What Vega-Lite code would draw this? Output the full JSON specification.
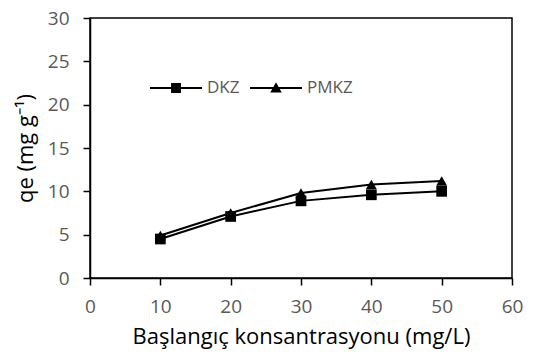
{
  "$schema": "https://vega.github.io/schema/vega-lite/v6.json",
  "autosize": {"type": "none"},
  "padding": {"left": 90, "top": 18, "right": 31, "bottom": 76},
  "width": 422,
  "height": 260,
  "background": "white",
  "config": {
    "view": {"stroke": "black", "strokeWidth": 1.5},
    "font": "Open Sans",
    "axis": {
      "grid": false,
      "domainColor": "black",
      "domainWidth": 1.5,
      "tickColor": "black",
      "tickWidth": 1.5,
      "tickSize": 7,
      "labelColor": "#595959",
      "labelFontSize": 19,
      "labelFont": "Open Sans",
      "titleFont": "Open Sans",
      "titleFontWeight": "normal",
      "titleColor": "black",
      "titleFontSize": 22
    }
  },
  "data": {
    "values": [
      {"c": 10, "qe": 4.5, "s": "DKZ"},
      {"c": 20, "qe": 7.1, "s": "DKZ"},
      {"c": 30, "qe": 8.9, "s": "DKZ"},
      {"c": 40, "qe": 9.6, "s": "DKZ"},
      {"c": 50, "qe": 10.0, "s": "DKZ"},
      {"c": 10, "qe": 4.9, "s": "PMKZ"},
      {"c": 20, "qe": 7.5, "s": "PMKZ"},
      {"c": 30, "qe": 9.8, "s": "PMKZ"},
      {"c": 40, "qe": 10.8, "s": "PMKZ"},
      {"c": 50, "qe": 11.2, "s": "PMKZ"}
    ]
  },
  "encoding": {
    "x": {
      "field": "c", "type": "quantitative",
      "scale": {"domain": [0, 60], "nice": false},
      "axis": {"values": [0, 10, 20, 30, 40, 50, 60], "labelPadding": 12, "title": "Başlangıç konsantrasyonu (mg/L)", "titlePadding": 10, "labelFlush": false}
    },
    "y": {
      "field": "qe", "type": "quantitative",
      "scale": {"domain": [0, 30], "nice": false},
      "axis": {"values": [0, 5, 10, 15, 20, 25, 30], "labelPadding": 14, "title": "qe (mg g⁻¹)", "titlePadding": 10}
    }
  },
  "layer": [
    {
      "mark": {"type": "line", "color": "black", "strokeWidth": 2},
      "encoding": {"detail": {"field": "s"}}
    },
    {
      "transform": [{"filter": "datum.s === 'DKZ'"}],
      "mark": {"type": "point", "filled": true, "color": "black", "opacity": 1, "shape": "square", "size": 115}
    },
    {
      "transform": [{"filter": "datum.s === 'PMKZ'"}],
      "mark": {"type": "point", "filled": true, "color": "black", "opacity": 1, "shape": "triangle-up", "size": 120}
    },
    {
      "mark": {"type": "point", "filled": true, "color": "black", "opacity": 0},
      "encoding": {
        "shape": {
          "field": "s", "type": "nominal",
          "scale": {"domain": ["DKZ", "PMKZ"], "range": ["M-1,-0.04H1V0.04H-1Z M-0.19,-0.19H0.19V0.19H-0.19Z", "M-1,-0.04H1V0.04H-1Z M0,-0.22L0.22,0.17H-0.22Z"]},
          "legend": {
            "title": null,
            "orient": "none",
            "legendX": 60,
            "legendY": 44,
            "direction": "horizontal",
            "symbolSize": 2704,
            "symbolFillColor": "black",
            "symbolOpacity": 1,
            "symbolStrokeWidth": 0,
            "labelFontSize": 17,
            "labelColor": "#595959",
            "labelFont": "Open Sans",
            "labelOffset": 5,
            "columnPadding": 10
          }
        },
        "size": {"value": 2704}
      }
    }
  ]
}
